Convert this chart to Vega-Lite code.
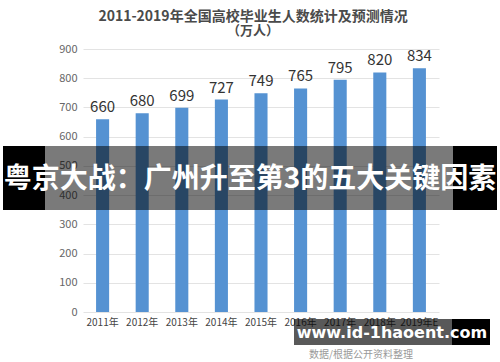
{
  "$schema": "https://vega.github.io/schema/vega-lite/v6.json",
  "width": 356,
  "height": 263,
  "autosize": "none",
  "padding": {"left": 83, "top": 49, "right": 61, "bottom": 50},
  "background": "white",
  "config": {"view": {"stroke": null}, "font": "Noto Sans CJK SC"},
  "title": {
    "text": "2011-2019年全国高校毕业生人数统计及预测情况",
    "subtitle": "（万人）",
    "fontSize": 14,
    "fontWeight": "bold",
    "color": "#4a4a4a",
    "subtitleFontSize": 13,
    "subtitleFontWeight": "bold",
    "subtitleColor": "#4a4a4a",
    "anchor": "middle",
    "dx": -8,
    "offset": 5,
    "subtitlePadding": 1
  },
  "datasets": {
    "bars": [
      {"year": "2011年", "value": 660},
      {"year": "2012年", "value": 680},
      {"year": "2013年", "value": 699},
      {"year": "2014年", "value": 727},
      {"year": "2015年", "value": 749},
      {"year": "2016年", "value": 765},
      {"year": "2017年", "value": 795},
      {"year": "2018年", "value": 820},
      {"year": "2019年E", "value": 834}
    ],
    "solid": [
      {"x": 0.006, "x2": 0.09, "y": 349, "y2": 568},
      {"x": 0.906, "x2": 0.994, "y": 349, "y2": 568},
      {"x": 0.904, "x2": 0.98, "y": -24, "y2": -113}
    ],
    "band": [
      {"x": 0.09, "x2": 0.906, "y": 349, "y2": 568}
    ],
    "wmbox": [
      {"x": 0.588, "x2": 0.904, "y": -24, "y2": -113}
    ],
    "headline": [{"t": "粤京大战：广州升至第3的五大关键因素", "x": 0.5, "y": 452}],
    "watermark": [{"t": "www.id-1haoent.com", "x": 0.784, "y": -72}],
    "source": [{"t": "数据/根据公开资料整理", "x": 0.722, "y": -147}]
  },
  "resolve": {"scale": {"x": "independent"}},
  "layer": [
    {
      "data": {"name": "bars"},
      "encoding": {
        "x": {
          "field": "year", "type": "nominal", "sort": null,
          "scale": {"paddingInner": 0.67, "paddingOuter": 0.33},
          "axis": {"title": null, "labelAngle": 0, "labelFontSize": 10, "labelColor": "#444", "ticks": false, "domain": false, "labelPadding": 5, "zindex": 0}
        },
        "y": {
          "field": "value", "type": "quantitative",
          "scale": {"domain": [0, 900], "nice": false},
          "axis": {"title": null, "tickCount": 9, "labelFontSize": 11, "labelColor": "#666", "gridColor": "#e3e3e3", "domain": false, "ticks": false, "labelPadding": 6, "zindex": 0}
        }
      },
      "layer": [
        {"mark": {"type": "bar", "color": "#5592d2"}},
        {"mark": {"type": "text", "fontSize": 15, "color": "#333", "dy": -7, "baseline": "alphabetic"}, "encoding": {"text": {"field": "value"}}}
      ]
    },
    {
      "data": {"name": "band"},
      "mark": {"type": "rect", "color": "black", "opacity": 0.52},
      "encoding": {
        "x": {"field": "x", "type": "quantitative", "scale": {"domain": [0, 1], "range": [-83, 417]}, "axis": null},
        "x2": {"field": "x2"},
        "y": {"field": "y", "type": "quantitative", "scale": {"domain": [0, 900], "nice": false}},
        "y2": {"field": "y2"}
      }
    },
    {
      "data": {"name": "wmbox"},
      "mark": {"type": "rect", "color": "black", "opacity": 0.65},
      "encoding": {
        "x": {"field": "x", "type": "quantitative", "scale": {"domain": [0, 1], "range": [-83, 417]}, "axis": null},
        "x2": {"field": "x2"},
        "y": {"field": "y", "type": "quantitative", "scale": {"domain": [0, 900], "nice": false}},
        "y2": {"field": "y2"}
      }
    },
    {
      "data": {"name": "solid"},
      "mark": {"type": "rect", "color": "black", "opacity": 1},
      "encoding": {
        "x": {"field": "x", "type": "quantitative", "scale": {"domain": [0, 1], "range": [-83, 417]}, "axis": null},
        "x2": {"field": "x2"},
        "y": {"field": "y", "type": "quantitative", "scale": {"domain": [0, 900], "nice": false}},
        "y2": {"field": "y2"}
      }
    },
    {
      "data": {"name": "headline"},
      "mark": {"type": "text", "color": "white", "fontSize": 28, "fontWeight": "bold", "font": "Noto Sans CJK SC", "baseline": "middle", "align": "center"},
      "encoding": {
        "x": {"field": "x", "type": "quantitative", "scale": {"domain": [0, 1], "range": [-83, 417]}, "axis": null},
        "y": {"field": "y", "type": "quantitative", "scale": {"domain": [0, 900], "nice": false}},
        "text": {"field": "t"}
      }
    },
    {
      "data": {"name": "watermark"},
      "mark": {"type": "text", "color": "white", "fontSize": 16, "fontWeight": "bold", "font": "DejaVu Sans", "baseline": "middle", "align": "center"},
      "encoding": {
        "x": {"field": "x", "type": "quantitative", "scale": {"domain": [0, 1], "range": [-83, 417]}, "axis": null},
        "y": {"field": "y", "type": "quantitative", "scale": {"domain": [0, 900], "nice": false}},
        "text": {"field": "t"}
      }
    },
    {
      "data": {"name": "source"},
      "mark": {"type": "text", "color": "#999", "fontSize": 10, "font": "Noto Sans CJK SC", "baseline": "middle", "align": "center"},
      "encoding": {
        "x": {"field": "x", "type": "quantitative", "scale": {"domain": [0, 1], "range": [-83, 417]}, "axis": null},
        "y": {"field": "y", "type": "quantitative", "scale": {"domain": [0, 900], "nice": false}},
        "text": {"field": "t"}
      }
    }
  ]
}
